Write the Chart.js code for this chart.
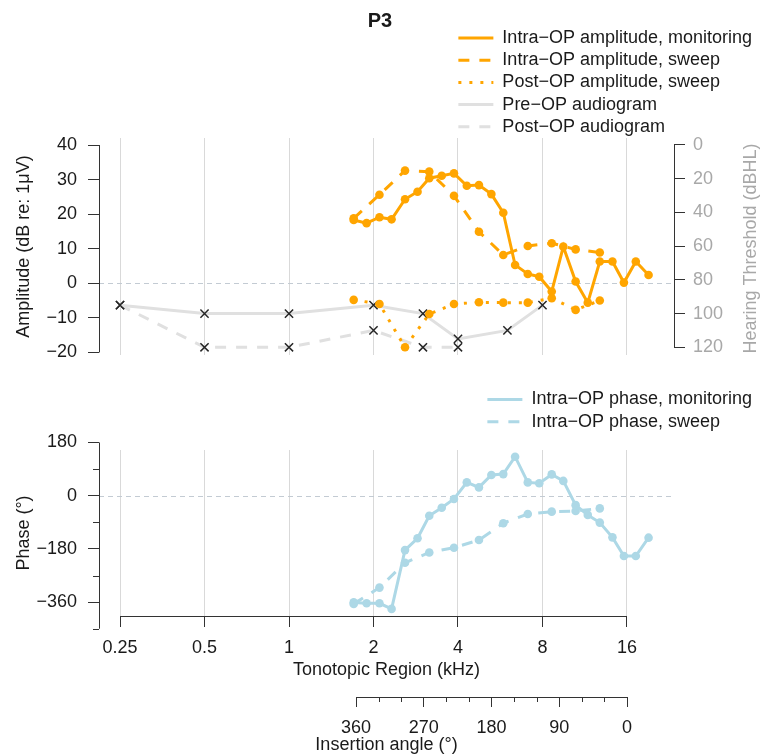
<!DOCTYPE html>
<html><head><meta charset="utf-8">
<script src="https://cdn.jsdelivr.net/npm/chart.js@4.4.1/dist/chart.umd.min.js"></script>
<style>
html,body{margin:0;padding:0;background:#fff;overflow:hidden}
#wrap{position:relative;width:760px;height:755px;background:#fff}
#c1{position:absolute;left:0;top:0}
#c2{position:absolute;left:0;top:380px}
</style></head><body>
<div id="wrap"><canvas id="c1" width="760" height="380"></canvas><canvas id="c2" width="760" height="375"></canvas></div>
<script>
// ---------------- data ----------------
const freqMon = [1.70, 1.89, 2.10, 2.32, 2.59, 2.87, 3.16, 3.50, 3.87, 4.30, 4.75, 5.26, 5.80,
                 6.39, 7.09, 7.79, 8.63, 9.49, 10.5, 11.6, 12.8, 14.2, 15.6, 17.2, 19.1];
const ampMon = [18.3, 17.4, 19.1, 18.5, 24.3, 26.5, 30.4, 31.1, 31.8, 28.2, 28.4, 25.8, 20.4,
                5.3, 2.7, 1.9, -2.4, 10.6, 0.5, -5.6, 6.3, 6.3, 0.2, 6.3, 2.4];
const freqSweep = [1.70, 2.10, 2.59, 3.16, 3.87, 4.75, 5.80, 7.09, 8.63, 10.5, 12.8];
const ampSweep = [18.8, 25.6, 32.6, 32.3, 25.3, 14.9, 8.2, 10.8, 11.6, 9.8, 8.9];
const ampPostSweep = [-4.8, -6.0, -18.5, -8.9, -6.0, -5.5, -5.6, -5.6, -4.3, -7.7, -5.0];
const audioFreq = [0.25, 0.5, 1, 2, 3, 4, 6, 8];
const preAudio = [95, 100, 100, 95, 100, 115, 110, 95];
const postAudioFreq = [0.25, 0.5, 1, 2, 3, 4];
const postAudio = [95, 120, 120, 110, 120, 120];
const phaseMon = [-361, -364, -364, -383, -184, -144, -68, -41, -11, 45, 28, 70, 73,
                  132, 45, 42, 72, 50, -32, -65, -91, -141, -204, -204, -142];
const phaseSweep = [-366, -311, -227, -192, -176, -150, -93, -62, -54, -52, -43];

const freqTicks = [0.25, 0.5, 1, 2, 4, 8, 16];
const freqTickLabels = ['0.25', '0.5', '1', '2', '4', '8', '16'];
const ampTicks = [-20, -10, 0, 10, 20, 30, 40];
const hearingTicks = [0, 20, 40, 60, 80, 100, 120];
const phaseTicks = [-450, -360, -270, -180, -90, 0, 90, 180];
const phaseLabelTicks = [-360, -180, 0, 180];
const angleTicks = [0, 30, 60, 90, 120, 150, 180, 210, 240, 270, 300, 330, 360];
const angleLabelTicks = [0, 90, 180, 270, 360];

const topLegend = [
  {text: 'Intra\u2212OP amplitude, monitoring', color: '#FFA500', dash: []},
  {text: 'Intra\u2212OP amplitude, sweep', color: '#FFA500', dash: [11, 10]},
  {text: 'Post\u2212OP amplitude, sweep', color: '#FFA500', dash: [3, 8]},
  {text: 'Pre\u2212OP audiogram', color: '#e0e0e0', dash: []},
  {text: 'Post\u2212OP audiogram', color: '#e0e0e0', dash: [11, 10]}
];
const phaseLegend = [
  {text: 'Intra\u2212OP phase, monitoring', color: '#ADD8E6', dash: []},
  {text: 'Intra\u2212OP phase, sweep', color: '#ADD8E6', dash: [11, 10]}
];

// ---------------- styling ----------------
const FONT = "'Liberation Sans', Arial, Helvetica, sans-serif";
const FS = 18;
const TXT = '#1a1a1a';
const ORANGE = '#FFA500', BLUE = '#ADD8E6', GRAYL = '#e0e0e0', GRID = '#d9d9d9', ZERO = '#c3cbd3';
const AX = '#333333', RGRAY = '#a8a8a8';
const X_MIN = 0.2104, X_MAX = 23.53;
Chart.defaults.font.family = FONT;
Chart.defaults.font.size = FS;
Chart.defaults.color = TXT;

const minus = v => String(v).replace('-', '\u2212');
const pts = (xs, ys) => xs.map((x, i) => ({x: x, y: ys[i]}));
function seg(ctx, x1, y1, x2, y2) { ctx.beginPath(); ctx.moveTo(x1, y1); ctx.lineTo(x2, y2); ctx.stroke(); }
const al = v => Math.round(v) + 0.5;

function drawLegend(ctx, items, y0, dy, right) {
  ctx.save();
  ctx.font = FS + 'px ' + FONT;
  const w = Math.max.apply(null, items.map(it => ctx.measureText(it.text).width));
  const tx = right - w;
  items.forEach((it, i) => {
    const y = y0 + i * dy;
    ctx.strokeStyle = it.color; ctx.lineWidth = 3; ctx.setLineDash(it.dash);
    seg(ctx, tx - 44, y, tx - 9, y);
    ctx.setLineDash([]);
    ctx.fillStyle = TXT; ctx.textAlign = 'left'; ctx.textBaseline = 'middle';
    ctx.fillText(it.text, tx, y);
  });
  ctx.restore();
}

function lineDs(label, data, color, dash, axis) {
  return {label: label, data: data, yAxisID: axis, borderColor: color, backgroundColor: color,
    borderWidth: 3, borderDash: dash, pointRadius: 4.3, pointBorderWidth: 0, pointBackgroundColor: color,
    tension: 0, clip: false};
}
function audioDs(label, data, dash) {
  return {label: label, data: data, yAxisID: 'y2', borderColor: GRAYL, backgroundColor: 'rgba(0,0,0,0)',
    borderWidth: 3, borderDash: dash, pointStyle: 'crossRot', pointRadius: 5.8, pointBorderColor: '#262626',
    pointBorderWidth: 1.5, pointBackgroundColor: 'rgba(0,0,0,0)', tension: 0, clip: false};
}

// ---------------- top panel: amplitude ----------------
const topDeco = {
  id: 'topDeco',
  beforeDatasetsDraw(chart) {
    const {ctx, chartArea: a, scales: {y}} = chart;
    ctx.save(); ctx.strokeStyle = ZERO; ctx.lineWidth = 1; ctx.setLineDash([5, 4]);
    const py = al(y.getPixelForValue(0));
    seg(ctx, a.left, py, a.right, py);
    ctx.restore();
  },
  afterDraw(chart) {
    const {ctx, chartArea: a, scales: {y, y2}} = chart;
    ctx.save(); ctx.strokeStyle = AX; ctx.lineWidth = 1;
    seg(ctx, al(a.left), y.getPixelForValue(ampTicks[0]), al(a.left), y.getPixelForValue(ampTicks[ampTicks.length - 1]));
    seg(ctx, al(a.right), y2.getPixelForValue(hearingTicks[0]), al(a.right), y2.getPixelForValue(hearingTicks[hearingTicks.length - 1]));
    ctx.translate(751, (a.top + a.bottom) / 2 + 2); ctx.rotate(-Math.PI / 2);
    ctx.fillStyle = RGRAY; ctx.font = FS + 'px ' + FONT; ctx.textAlign = 'center'; ctx.textBaseline = 'middle';
    ctx.fillText('Hearing Threshold (dBHL)', 0, 0);
    ctx.restore();
    drawLegend(ctx, topLegend, 38, 22.2, 752);
  }
};

new Chart(document.getElementById('c1'), {
  type: 'line',
  data: {datasets: [
    lineDs('Intra\u2212OP amplitude, monitoring', pts(freqMon, ampMon), ORANGE, [], 'y'),
    lineDs('Intra\u2212OP amplitude, sweep', pts(freqSweep, ampSweep), ORANGE, [11, 10], 'y'),
    lineDs('Post\u2212OP amplitude, sweep', pts(freqSweep, ampPostSweep), ORANGE, [3, 8], 'y'),
    audioDs('Pre\u2212OP audiogram', pts(audioFreq, preAudio), []),
    audioDs('Post\u2212OP audiogram', pts(postAudioFreq, postAudio), [11, 10])
  ]},
  options: {
    responsive: false, animation: false, devicePixelRatio: 1,
    layout: {padding: 0},
    plugins: {
      legend: {display: false}, tooltip: {enabled: false},
      title: {display: true, text: 'P3', color: TXT, font: {family: FONT, size: 20, weight: 'bold'},
              padding: {top: 9, bottom: 105}}
    },
    scales: {
      x: {type: 'logarithmic', position: 'bottom', min: X_MIN, max: X_MAX,
          afterBuildTicks: s => { s.ticks = freqTicks.map(v => ({value: v})); },
          afterFit: s => { s.height = 25; },
          ticks: {display: false},
          grid: {display: true, drawOnChartArea: true, drawTicks: false, color: GRID, lineWidth: 1},
          border: {display: false}},
      y: {type: 'linear', position: 'left', min: -20.75, max: 42.03,
          afterBuildTicks: s => { s.ticks = ampTicks.map(v => ({value: v})); },
          afterFit: s => { s.width = 99; },
          ticks: {color: TXT, padding: 11, autoSkip: false, callback: v => minus(v)},
          grid: {display: true, drawOnChartArea: false, drawTicks: true, tickLength: 11, tickColor: AX, tickWidth: 1},
          border: {display: false},
          title: {display: true, text: 'Amplitude (dB re: 1\u03bcV)', color: TXT, padding: {top: 13, bottom: 0}}},
      y2: {type: 'linear', position: 'right', reverse: true, min: -4.15, max: 124.57,
          afterBuildTicks: s => { s.ticks = hearingTicks.map(v => ({value: v})); },
          afterFit: s => { s.width = 86; },
          ticks: {color: RGRAY, padding: 8, autoSkip: false},
          grid: {display: true, drawOnChartArea: false, drawTicks: true, tickLength: 11, tickColor: AX, tickWidth: 1},
          border: {display: false}}
    }
  },
  plugins: [topDeco]
});

// ---------------- bottom panel: phase ----------------
const botDeco = {
  id: 'botDeco',
  beforeDatasetsDraw(chart) {
    const {ctx, chartArea: a, scales: {y}} = chart;
    ctx.save(); ctx.strokeStyle = ZERO; ctx.lineWidth = 1; ctx.setLineDash([5, 4]);
    const py = al(y.getPixelForValue(0));
    seg(ctx, a.left, py, a.right, py);
    ctx.restore();
  },
  afterDraw(chart) {
    const {ctx, chartArea: a, scales: {x, xa, y}} = chart;
    ctx.save(); ctx.strokeStyle = AX; ctx.lineWidth = 1;
    seg(ctx, al(a.left), y.getPixelForValue(phaseTicks[phaseTicks.length - 1]), al(a.left), y.getPixelForValue(phaseTicks[0]));
    phaseTicks.filter(v => phaseLabelTicks.indexOf(v) < 0).forEach(v => {
      const py = al(y.getPixelForValue(v)); seg(ctx, a.left - 6, py, a.left, py);
    });
    seg(ctx, x.getPixelForValue(freqTicks[0]), al(a.bottom), x.getPixelForValue(freqTicks[freqTicks.length - 1]), al(a.bottom));
    const ty = al(xa.top);
    seg(ctx, xa.getPixelForValue(angleTicks[angleTicks.length - 1]), ty, xa.getPixelForValue(angleTicks[0]), ty);
    angleTicks.filter(v => angleLabelTicks.indexOf(v) < 0).forEach(v => {
      const px = al(xa.getPixelForValue(v)); seg(ctx, px, xa.top, px, xa.top + 5);
    });
    ctx.restore();
    drawLegend(ctx, phaseLegend, 19.5, 22.2, 752);
  }
};

new Chart(document.getElementById('c2'), {
  type: 'line',
  data: {datasets: [
    lineDs('Intra\u2212OP phase, monitoring', pts(freqMon, phaseMon), BLUE, [], 'y'),
    lineDs('Intra\u2212OP phase, sweep', pts(freqSweep, phaseSweep), BLUE, [11, 10], 'y')
  ]},
  options: {
    responsive: false, animation: false, devicePixelRatio: 1,
    layout: {padding: {top: 70, right: 86, left: 0, bottom: 0}},
    plugins: {legend: {display: false}, tooltip: {enabled: false}, title: {display: false}},
    scales: {
      x: {type: 'logarithmic', position: 'bottom', weight: 0, min: X_MIN, max: X_MAX,
          afterBuildTicks: s => { s.ticks = freqTicks.map(v => ({value: v})); },
          afterFit: s => { s.height = 81; },
          ticks: {color: TXT, padding: 10, autoSkip: false, maxRotation: 0, callback: (v, i) => freqTickLabels[i]},
          grid: {display: true, drawOnChartArea: true, drawTicks: true, tickLength: 11, color: GRID, tickColor: AX, lineWidth: 1, tickWidth: 1},
          border: {display: false},
          title: {display: true, text: 'Tonotopic Region (kHz)', color: TXT, padding: {top: 0, bottom: 16}}},
      xa: {type: 'linear', position: 'bottom', weight: 1, reverse: true, min: -62.4, max: 701.4,
          afterBuildTicks: s => { s.ticks = angleTicks.map(v => ({value: v})); },
          afterFit: s => { s.height = 58; },
          ticks: {color: TXT, padding: 10, autoSkip: false, maxRotation: 0,
                  callback: v => angleLabelTicks.indexOf(v) >= 0 ? String(v) : ''},
          grid: {display: true, drawOnChartArea: false, drawTicks: true, tickLength: 10, tickWidth: 1,
                 tickColor: c => (c.tick && angleLabelTicks.indexOf(c.tick.value) >= 0) ? AX : 'rgba(0,0,0,0)'},
          border: {display: false},
          title: {display: true, text: 'Insertion angle (\u00b0)', color: TXT, padding: {top: 0, bottom: -1}}},
      y: {type: 'linear', position: 'left', min: -407.0, max: 154.6,
          afterBuildTicks: s => { s.ticks = phaseTicks.map(v => ({value: v})); },
          afterFit: s => { s.width = 99; },
          ticks: {color: TXT, padding: 11, autoSkip: false,
                  callback: v => phaseLabelTicks.indexOf(v) >= 0 ? minus(v) : ''},
          grid: {display: true, drawOnChartArea: false, drawTicks: true, tickLength: 11, tickWidth: 1,
                 tickColor: c => (c.tick && phaseLabelTicks.indexOf(c.tick.value) >= 0) ? AX : 'rgba(0,0,0,0)'},
          border: {display: false},
          title: {display: true, text: 'Phase (\u00b0)', color: TXT, padding: {top: 13, bottom: 0}}}
    }
  },
  plugins: [botDeco]
});
</script>
</body></html>
